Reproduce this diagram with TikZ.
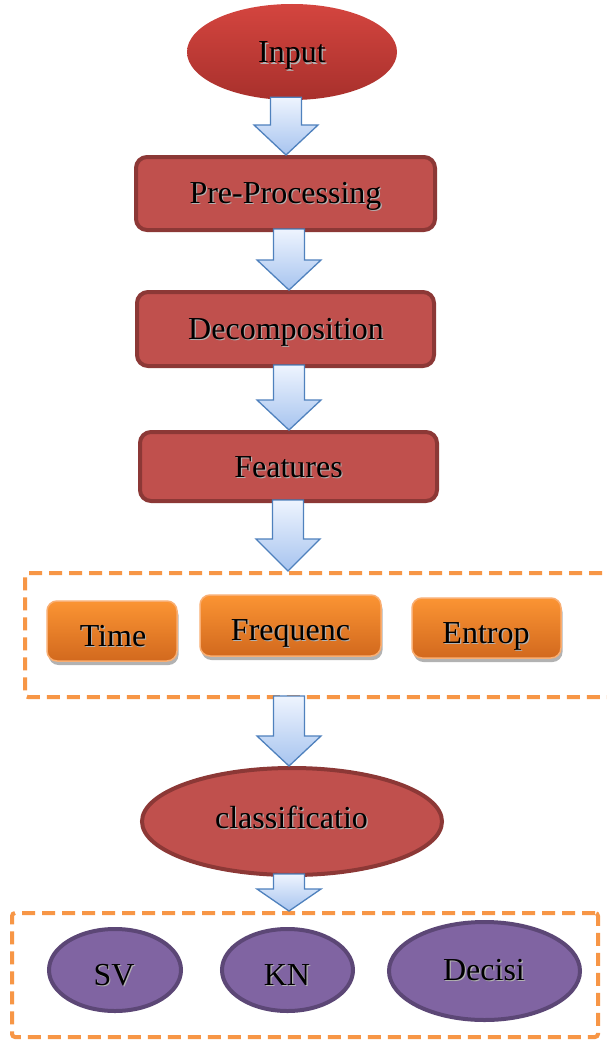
\documentclass[tikz,border=0pt]{standalone}
\usepackage{fontspec}
\setmainfont{Liberation Serif}
\usetikzlibrary{shapes.geometric,shadows,calc}

\definecolor{redfill}{HTML}{C0504D}
\definecolor{redline}{HTML}{8C3836}
\definecolor{redtop}{HTML}{D4453F}
\definecolor{redbot}{HTML}{A8302C}
\definecolor{arrowtop}{HTML}{EEF4FE}
\definecolor{arrowbot}{HTML}{A7C4EF}
\definecolor{arrowline}{HTML}{4F81BD}
\definecolor{orgtop}{HTML}{FB9433}
\definecolor{orgbot}{HTML}{D2691E}
\definecolor{orgline}{HTML}{F9AE72}
\definecolor{dashline}{HTML}{F79646}
\definecolor{purfill}{HTML}{8064A2}
\definecolor{purline}{HTML}{5C4776}

% text with a faint grey shadow behind it
\newcommand\shtext[1]{\makebox[0pt][l]{\hspace{1.2pt}\raisebox{-1.2pt}{\textcolor{black!30}{#1}}}#1}

% block arrow from one node's bottom to the next node's top
% #1 from, #2 to, #3 centre x, #4 head length
\newcommand\flowarrow[4]{%
  \draw[flowarr] let \p1=(#1.south), \p2=(#2.north) in
    (#3-15.5,\y1+3) -- (#3+15.5,\y1+3) -- (#3+15.5,\y2+#4) -- (#3+32,\y2+#4)
    -- (#3,\y2) -- (#3-32,\y2+#4) -- (#3-15.5,\y2+#4) -- cycle;}

\begin{document}
\begin{tikzpicture}[x=1pt,y=1pt,
  txt/.style={font=\fontsize{32}{38}\selectfont, anchor=base, inner sep=0},
  stagebox/.style={rectangle, rounded corners=11, fill=redfill, draw=redline,
    line width=4, inner sep=0},
  featbox/.style={rectangle, rounded corners=10, top color=orgtop, bottom color=orgbot,
    draw=orgline, line width=1.5, inner sep=0,
    drop shadow={shadow xshift=1.5pt, shadow yshift=-4pt, opacity=0.3, fill=black}},
  dashbox/.style={rectangle, rounded corners=3, draw=dashline, line width=4,
    dash pattern=on 13pt off 7pt, inner sep=0},
  classell/.style={ellipse, fill=redfill, draw=redline, line width=4, inner sep=0},
  algell/.style={ellipse, fill=purfill, draw=purline, line width=4, inner sep=0},
  flowarr/.style={draw=arrowline, line width=1.3, top color=arrowtop, bottom color=arrowbot,
    line join=miter}
]
\fill[white] (0,0) rectangle (607,-1041);
\useasboundingbox (0,0) rectangle (607,-1041);

% main stages
\node[ellipse, top color=redtop, bottom color=redbot, minimum width=210,
  minimum height=96, inner sep=0] (input) at (292,-52) {};
\node[txt] (tinput) at (292,-63) {\shtext{Input}};

\node[stagebox, minimum width=299, minimum height=73] (pre) at (285.5,-193.5) {};
\node[txt] (tpre) at (285.5,-203) {\shtext{Pre-Processing}};

\node[stagebox, minimum width=297, minimum height=74] (dec) at (285.5,-329) {};
\node[txt] (tdec) at (286,-339) {\shtext{Decomposition}};

\node[stagebox, minimum width=297, minimum height=69] (feat) at (288.5,-466.5) {};
\node[txt] (tfeat) at (288.5,-477) {\shtext{Features}};

% feature group
\node[dashbox, minimum width=600, minimum height=124] (grp1) at (325,-635) {};
\node[featbox, minimum width=130, minimum height=60] (time) at (112,-631) {};
\node[txt] (ttime) at (113,-646) {\shtext{Time}};
\node[featbox, minimum width=181, minimum height=61] (freq) at (290.5,-625.5) {};
\node[txt] (tfreq) at (290.5,-640) {\shtext{Frequenc}};
\node[featbox, minimum width=149, minimum height=60] (ent) at (486.5,-628) {};
\node[txt] (tent) at (486,-643) {\shtext{Entrop}};

% classification
\node[classell, minimum width=300, minimum height=107] (classif) at (292,-821.5) {};
\node[txt] (tclassif) at (291.5,-828) {\shtext{classificatio}};

% classifier group
\node[dashbox, minimum width=586, minimum height=124] (grp2) at (305,-975) {};
\node[algell, minimum width=132, minimum height=82] (sv) at (115,-970) {};
\node[txt] (tsv) at (114,-985) {\shtext{SV}};
\node[algell, minimum width=131, minimum height=82] (kn) at (287.5,-970) {};
\node[txt] (tkn) at (287,-985) {\shtext{KN}};
\node[algell, minimum width=191, minimum height=98] (dtree) at (484.5,-971) {};
\node[txt] (tdtree) at (484,-980) {\shtext{Decisi}};

% block arrows between stages
\flowarrow{input}{pre}{286}{30}
\flowarrow{pre}{dec}{289}{30}
\flowarrow{dec}{feat}{289}{30}
\flowarrow{feat}{grp1}{288}{32}
\flowarrow{grp1}{classif}{289}{30}
\flowarrow{classif}{grp2}{289}{22}
\end{tikzpicture}
\end{document}
